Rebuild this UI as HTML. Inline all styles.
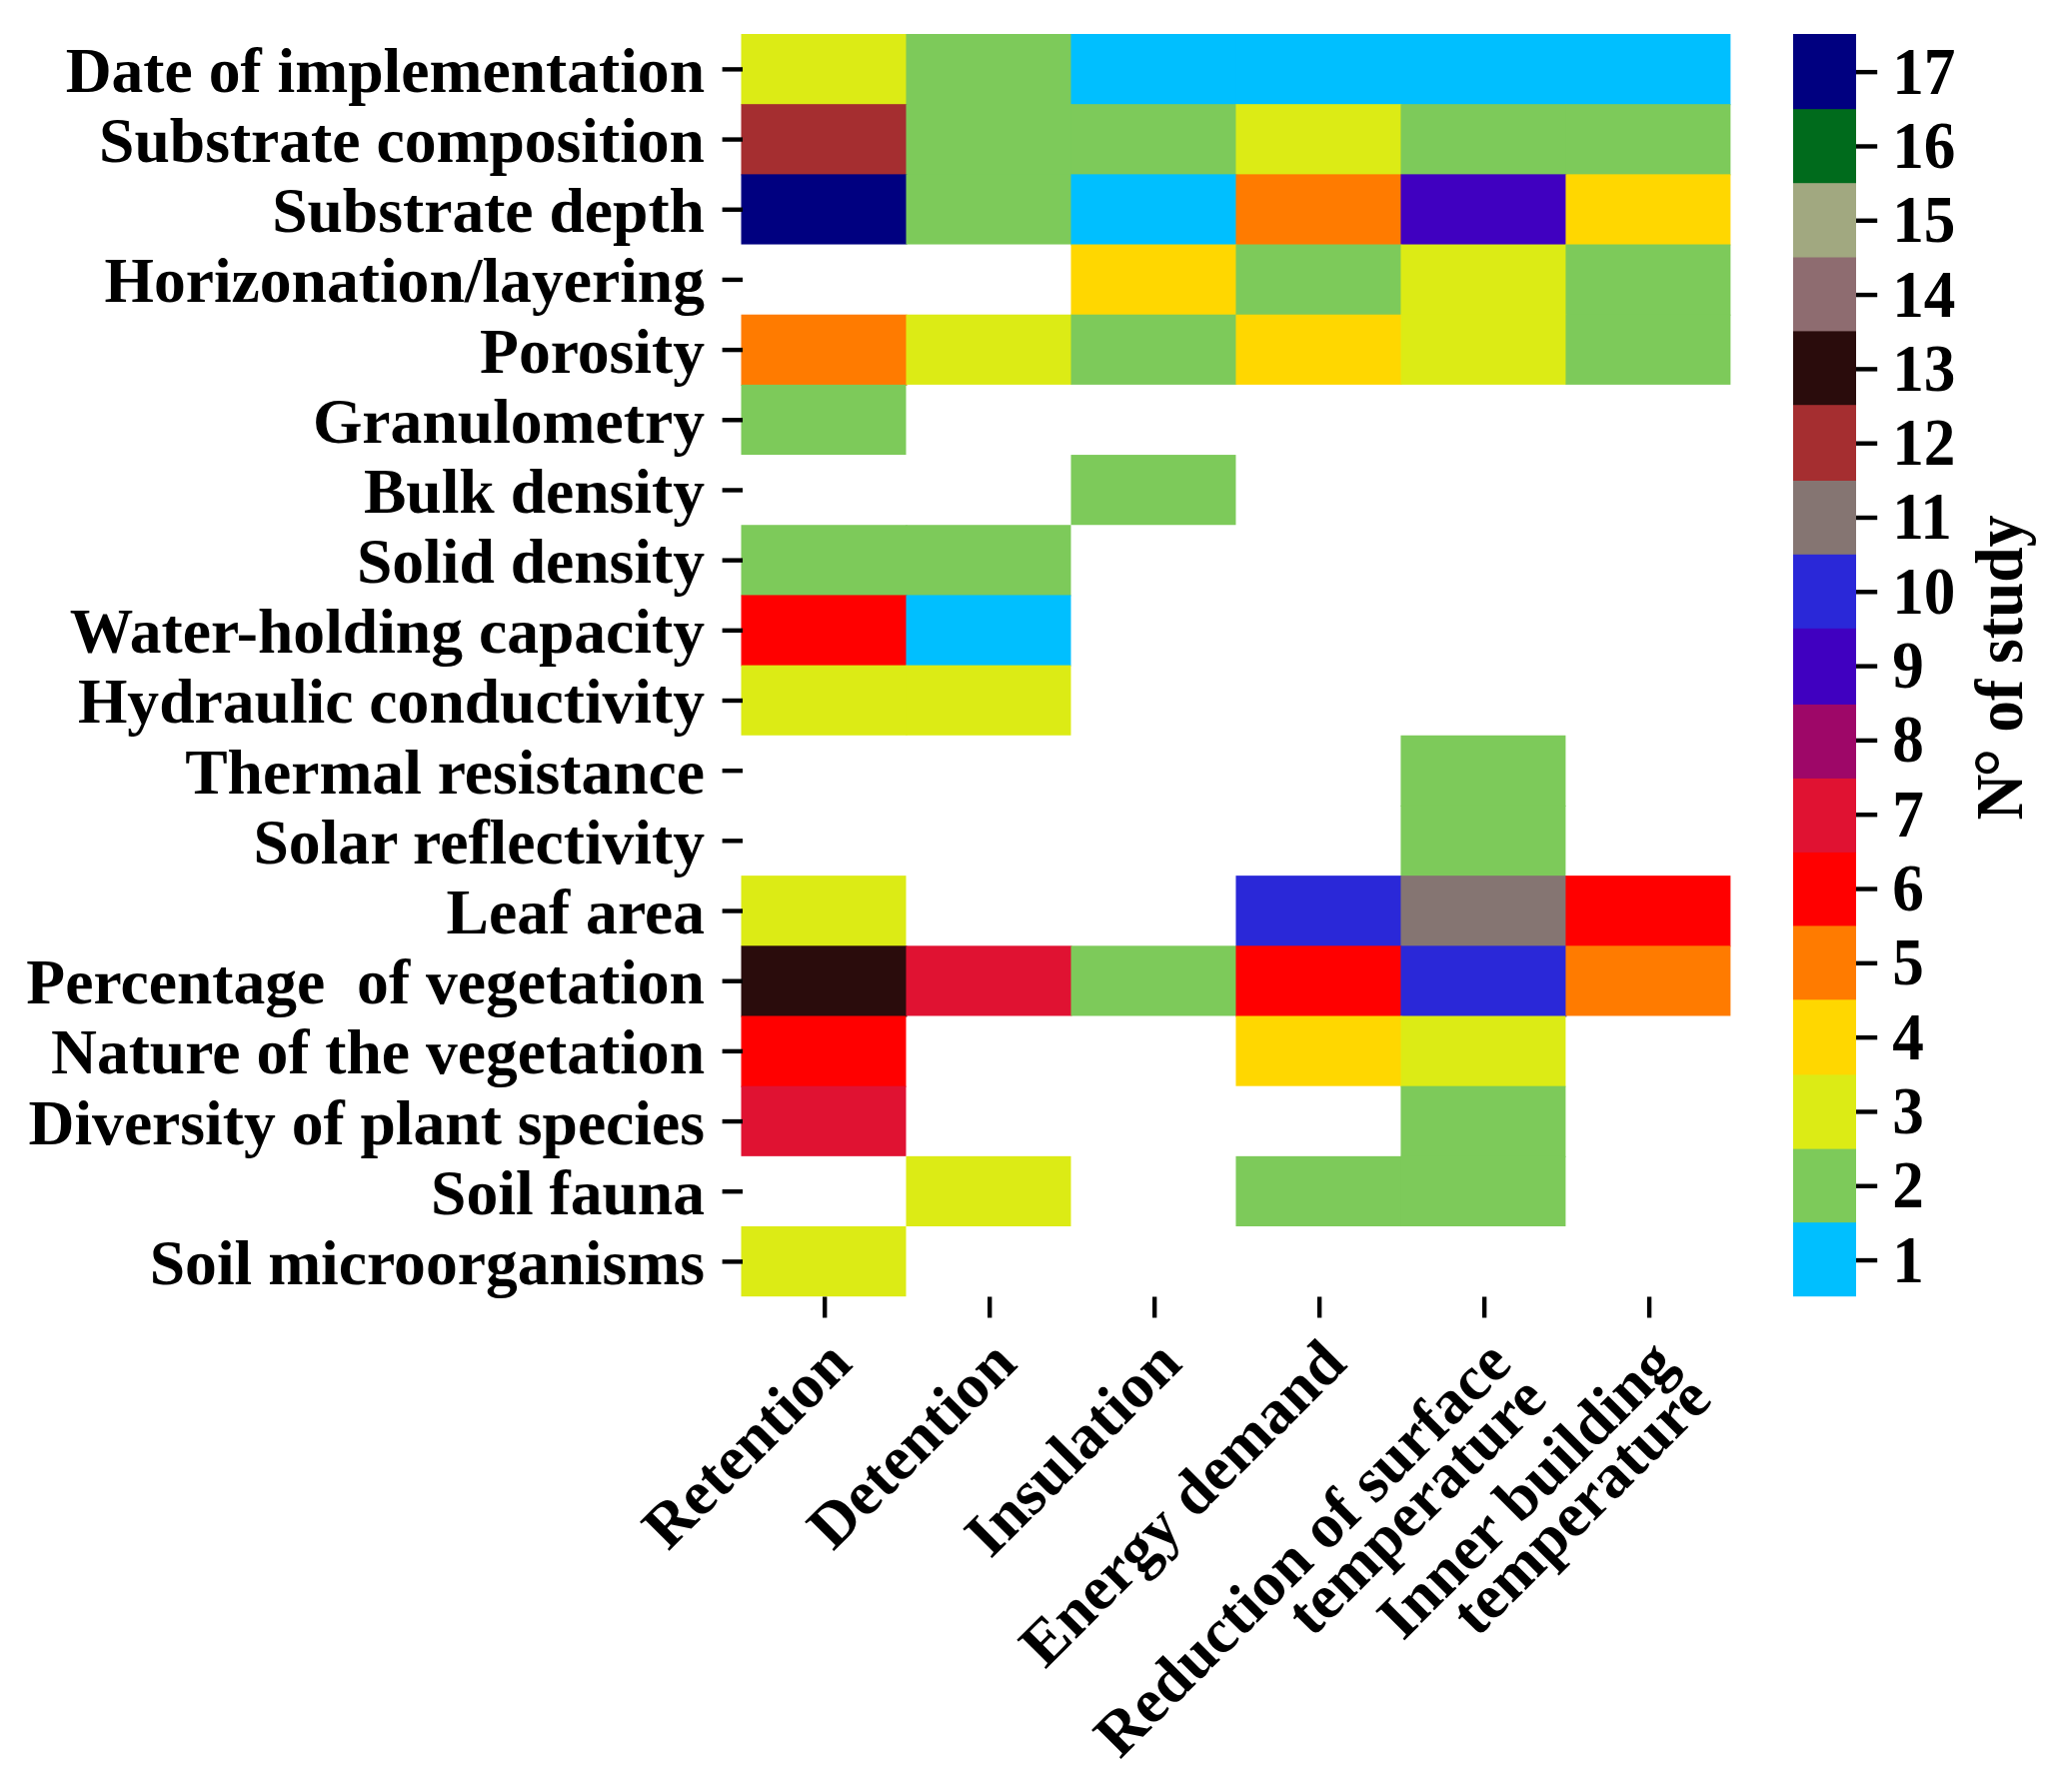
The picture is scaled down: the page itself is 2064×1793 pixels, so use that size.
<!DOCTYPE html>
<html lang="en">
<head>
<meta charset="utf-8">
<title>Heatmap</title>
<style>
html,body{margin:0;padding:0;background:#fff;}
body{width:2064px;height:1793px;overflow:hidden;}
svg{display:block;}
text{font-family:"Liberation Serif","Times New Roman",serif;font-weight:bold;fill:#000;}
</style>
</head>
<body>
<svg width="2064" height="1793" viewBox="0 0 2064 1793">
<rect x="0" y="0" width="2064" height="1793" fill="#ffffff"/>
<g>
<rect x="741.50" y="34.00" width="165.98" height="71.18" fill="#DCEB15"/>
<rect x="906.48" y="34.00" width="165.98" height="71.18" fill="#7DCA5A"/>
<rect x="1071.47" y="34.00" width="165.98" height="71.18" fill="#00BFFF"/>
<rect x="1236.45" y="34.00" width="165.98" height="71.18" fill="#00BFFF"/>
<rect x="1401.43" y="34.00" width="165.98" height="71.18" fill="#00BFFF"/>
<rect x="1566.42" y="34.00" width="164.98" height="71.18" fill="#00BFFF"/>
<rect x="741.50" y="104.18" width="165.98" height="71.18" fill="#A52E30"/>
<rect x="906.48" y="104.18" width="165.98" height="71.18" fill="#7DCA5A"/>
<rect x="1071.47" y="104.18" width="165.98" height="71.18" fill="#7DCA5A"/>
<rect x="1236.45" y="104.18" width="165.98" height="71.18" fill="#DCEB15"/>
<rect x="1401.43" y="104.18" width="165.98" height="71.18" fill="#7DCA5A"/>
<rect x="1566.42" y="104.18" width="164.98" height="71.18" fill="#7DCA5A"/>
<rect x="741.50" y="174.36" width="165.98" height="70.18" fill="#000080"/>
<rect x="906.48" y="174.36" width="165.98" height="70.18" fill="#7DCA5A"/>
<rect x="1071.47" y="174.36" width="165.98" height="71.18" fill="#00BFFF"/>
<rect x="1236.45" y="174.36" width="165.98" height="71.18" fill="#FF7B00"/>
<rect x="1401.43" y="174.36" width="165.98" height="71.18" fill="#4000C0"/>
<rect x="1566.42" y="174.36" width="164.98" height="71.18" fill="#FFD700"/>
<rect x="1071.47" y="244.53" width="165.98" height="71.18" fill="#FFD700"/>
<rect x="1236.45" y="244.53" width="165.98" height="71.18" fill="#7DCA5A"/>
<rect x="1401.43" y="244.53" width="165.98" height="71.18" fill="#DCEB15"/>
<rect x="1566.42" y="244.53" width="164.98" height="71.18" fill="#7DCA5A"/>
<rect x="741.50" y="314.71" width="165.98" height="71.18" fill="#FF7B00"/>
<rect x="906.48" y="314.71" width="165.98" height="70.18" fill="#DCEB15"/>
<rect x="1071.47" y="314.71" width="165.98" height="70.18" fill="#7DCA5A"/>
<rect x="1236.45" y="314.71" width="165.98" height="70.18" fill="#FFD700"/>
<rect x="1401.43" y="314.71" width="165.98" height="70.18" fill="#DCEB15"/>
<rect x="1566.42" y="314.71" width="164.98" height="70.18" fill="#7DCA5A"/>
<rect x="741.50" y="384.89" width="164.98" height="70.18" fill="#7DCA5A"/>
<rect x="1071.47" y="455.07" width="164.98" height="70.18" fill="#7DCA5A"/>
<rect x="741.50" y="525.24" width="165.98" height="71.18" fill="#7DCA5A"/>
<rect x="906.48" y="525.24" width="164.98" height="71.18" fill="#7DCA5A"/>
<rect x="741.50" y="595.42" width="165.98" height="71.18" fill="#FF0000"/>
<rect x="906.48" y="595.42" width="164.98" height="71.18" fill="#00BFFF"/>
<rect x="741.50" y="665.60" width="165.98" height="70.18" fill="#DCEB15"/>
<rect x="906.48" y="665.60" width="164.98" height="70.18" fill="#DCEB15"/>
<rect x="1401.43" y="735.78" width="164.98" height="71.18" fill="#7DCA5A"/>
<rect x="1401.43" y="805.96" width="164.98" height="71.18" fill="#7DCA5A"/>
<rect x="741.50" y="876.13" width="164.98" height="71.18" fill="#DCEB15"/>
<rect x="1236.45" y="876.13" width="165.98" height="71.18" fill="#2A28D8"/>
<rect x="1401.43" y="876.13" width="165.98" height="71.18" fill="#857572"/>
<rect x="1566.42" y="876.13" width="164.98" height="71.18" fill="#FF0000"/>
<rect x="741.50" y="946.31" width="165.98" height="71.18" fill="#2A0C0C"/>
<rect x="906.48" y="946.31" width="165.98" height="70.18" fill="#E01232"/>
<rect x="1071.47" y="946.31" width="165.98" height="70.18" fill="#7DCA5A"/>
<rect x="1236.45" y="946.31" width="165.98" height="71.18" fill="#FF0000"/>
<rect x="1401.43" y="946.31" width="165.98" height="71.18" fill="#2A28D8"/>
<rect x="1566.42" y="946.31" width="164.98" height="70.18" fill="#FF7B00"/>
<rect x="741.50" y="1016.49" width="164.98" height="71.18" fill="#FF0000"/>
<rect x="1236.45" y="1016.49" width="165.98" height="70.18" fill="#FFD700"/>
<rect x="1401.43" y="1016.49" width="164.98" height="71.18" fill="#DCEB15"/>
<rect x="741.50" y="1086.67" width="164.98" height="70.18" fill="#E01232"/>
<rect x="1401.43" y="1086.67" width="164.98" height="71.18" fill="#7DCA5A"/>
<rect x="906.48" y="1156.84" width="164.98" height="70.18" fill="#DCEB15"/>
<rect x="1236.45" y="1156.84" width="165.98" height="70.18" fill="#7DCA5A"/>
<rect x="1401.43" y="1156.84" width="164.98" height="70.18" fill="#7DCA5A"/>
<rect x="741.50" y="1227.02" width="164.98" height="70.18" fill="#DCEB15"/>
</g>
<g stroke="#000" stroke-width="4.4">
<line x1="722.6" y1="69.39" x2="743.0" y2="69.39"/>
<line x1="722.6" y1="139.57" x2="743.0" y2="139.57"/>
<line x1="722.6" y1="209.74" x2="743.0" y2="209.74"/>
<line x1="722.6" y1="279.92" x2="743.0" y2="279.92"/>
<line x1="722.6" y1="350.10" x2="743.0" y2="350.10"/>
<line x1="722.6" y1="420.28" x2="743.0" y2="420.28"/>
<line x1="722.6" y1="490.46" x2="743.0" y2="490.46"/>
<line x1="722.6" y1="560.63" x2="743.0" y2="560.63"/>
<line x1="722.6" y1="630.81" x2="743.0" y2="630.81"/>
<line x1="722.6" y1="700.99" x2="743.0" y2="700.99"/>
<line x1="722.6" y1="771.17" x2="743.0" y2="771.17"/>
<line x1="722.6" y1="841.34" x2="743.0" y2="841.34"/>
<line x1="722.6" y1="911.52" x2="743.0" y2="911.52"/>
<line x1="722.6" y1="981.70" x2="743.0" y2="981.70"/>
<line x1="722.6" y1="1051.88" x2="743.0" y2="1051.88"/>
<line x1="722.6" y1="1122.06" x2="743.0" y2="1122.06"/>
<line x1="722.6" y1="1192.23" x2="743.0" y2="1192.23"/>
<line x1="722.6" y1="1262.41" x2="743.0" y2="1262.41"/>
<line x1="825.19" y1="1297.5" x2="825.19" y2="1318.5"/>
<line x1="990.18" y1="1297.5" x2="990.18" y2="1318.5"/>
<line x1="1155.16" y1="1297.5" x2="1155.16" y2="1318.5"/>
<line x1="1320.14" y1="1297.5" x2="1320.14" y2="1318.5"/>
<line x1="1485.13" y1="1297.5" x2="1485.13" y2="1318.5"/>
<line x1="1650.11" y1="1297.5" x2="1650.11" y2="1318.5"/>
</g>
<g font-size="63.6" text-anchor="end">
<text x="705" y="91.89">Date of implementation</text>
<text x="705" y="162.07">Substrate composition</text>
<text x="705" y="232.24">Substrate depth</text>
<text x="705" y="302.42">Horizonation/layering</text>
<text x="705" y="372.60">Porosity</text>
<text x="705" y="442.78">Granulometry</text>
<text x="705" y="512.96">Bulk density</text>
<text x="705" y="583.13">Solid density</text>
<text x="705" y="653.31">Water-holding capacity</text>
<text x="705" y="723.49">Hydraulic conductivity</text>
<text x="705" y="793.67">Thermal resistance</text>
<text x="705" y="863.84">Solar reflectivity</text>
<text x="705" y="934.02">Leaf area</text>
<text x="705" y="1004.20">Percentage  of vegetation</text>
<text x="705" y="1074.38">Nature of the vegetation</text>
<text x="705" y="1144.56">Diversity of plant species</text>
<text x="705" y="1214.73">Soil fauna</text>
<text x="705" y="1284.91">Soil microorganisms</text>
</g>
<g font-size="63.1" text-anchor="end">
<text transform="translate(854.49,1367.00) rotate(-45)">Retention</text>
<text transform="translate(1019.48,1367.00) rotate(-45)">Detention</text>
<text transform="translate(1184.46,1367.00) rotate(-45)">Insulation</text>
<text transform="translate(1349.44,1367.00) rotate(-45)">Energy demand</text>
<text transform="translate(1514.43,1367.00) rotate(-45)"><tspan x="0" y="0">Reduction of surface</tspan><tspan x="0" y="50">temperature</tspan></text>
<text transform="translate(1679.41,1367.00) rotate(-45)"><tspan x="0" y="0">Inner building</tspan><tspan x="0" y="50">temperature</tspan></text>
</g>
<g>
<rect x="1794.00" y="34.00" width="63.00" height="76.20" fill="#000080"/>
<rect x="1794.00" y="109.20" width="63.00" height="75.00" fill="#006B1C"/>
<rect x="1794.00" y="183.20" width="63.00" height="75.30" fill="#A1A880"/>
<rect x="1794.00" y="257.50" width="63.00" height="74.90" fill="#8E6C70"/>
<rect x="1794.00" y="331.40" width="63.00" height="74.80" fill="#2A0C0C"/>
<rect x="1794.00" y="405.20" width="63.00" height="76.80" fill="#A52E30"/>
<rect x="1794.00" y="481.00" width="63.00" height="74.80" fill="#857572"/>
<rect x="1794.00" y="554.80" width="63.00" height="75.00" fill="#2A28D8"/>
<rect x="1794.00" y="628.80" width="63.00" height="77.10" fill="#4000C0"/>
<rect x="1794.00" y="704.90" width="63.00" height="75.00" fill="#9E0768"/>
<rect x="1794.00" y="778.90" width="63.00" height="75.00" fill="#E01232"/>
<rect x="1794.00" y="852.90" width="63.00" height="74.50" fill="#FF0000"/>
<rect x="1794.00" y="926.40" width="63.00" height="74.90" fill="#FF7B00"/>
<rect x="1794.00" y="1000.30" width="63.00" height="76.10" fill="#FFD700"/>
<rect x="1794.00" y="1075.40" width="63.00" height="75.20" fill="#DCEB15"/>
<rect x="1794.00" y="1149.60" width="63.00" height="74.60" fill="#7DCA5A"/>
<rect x="1794.00" y="1223.20" width="63.00" height="74.00" fill="#00BFFF"/>
</g>
<g stroke="#000" stroke-width="4.4">
<line x1="1857.0" y1="72.15" x2="1878.2" y2="72.15"/>
<line x1="1857.0" y1="146.46" x2="1878.2" y2="146.46"/>
<line x1="1857.0" y1="220.76" x2="1878.2" y2="220.76"/>
<line x1="1857.0" y1="295.07" x2="1878.2" y2="295.07"/>
<line x1="1857.0" y1="369.38" x2="1878.2" y2="369.38"/>
<line x1="1857.0" y1="443.68" x2="1878.2" y2="443.68"/>
<line x1="1857.0" y1="517.99" x2="1878.2" y2="517.99"/>
<line x1="1857.0" y1="592.29" x2="1878.2" y2="592.29"/>
<line x1="1857.0" y1="666.60" x2="1878.2" y2="666.60"/>
<line x1="1857.0" y1="740.91" x2="1878.2" y2="740.91"/>
<line x1="1857.0" y1="815.21" x2="1878.2" y2="815.21"/>
<line x1="1857.0" y1="889.52" x2="1878.2" y2="889.52"/>
<line x1="1857.0" y1="963.82" x2="1878.2" y2="963.82"/>
<line x1="1857.0" y1="1038.13" x2="1878.2" y2="1038.13"/>
<line x1="1857.0" y1="1112.44" x2="1878.2" y2="1112.44"/>
<line x1="1857.0" y1="1186.74" x2="1878.2" y2="1186.74"/>
<line x1="1857.0" y1="1261.05" x2="1878.2" y2="1261.05"/>
</g>
<g font-size="68.4" text-anchor="start">
<text transform="translate(1893.2,93.65) scale(0.925,1)">17</text>
<text transform="translate(1893.2,167.96) scale(0.925,1)">16</text>
<text transform="translate(1893.2,242.26) scale(0.925,1)">15</text>
<text transform="translate(1893.2,316.57) scale(0.925,1)">14</text>
<text transform="translate(1893.2,390.88) scale(0.925,1)">13</text>
<text transform="translate(1893.2,465.18) scale(0.925,1)">12</text>
<text transform="translate(1893.2,539.49) scale(0.925,1)">11</text>
<text transform="translate(1893.2,613.79) scale(0.925,1)">10</text>
<text transform="translate(1893.2,688.10) scale(0.925,1)">9</text>
<text transform="translate(1893.2,762.41) scale(0.925,1)">8</text>
<text transform="translate(1893.2,836.71) scale(0.925,1)">7</text>
<text transform="translate(1893.2,911.02) scale(0.925,1)">6</text>
<text transform="translate(1893.2,985.32) scale(0.925,1)">5</text>
<text transform="translate(1893.2,1059.63) scale(0.925,1)">4</text>
<text transform="translate(1893.2,1133.94) scale(0.925,1)">3</text>
<text transform="translate(1893.2,1208.24) scale(0.925,1)">2</text>
<text transform="translate(1893.2,1282.55) scale(0.925,1)">1</text>
</g>
<text font-size="68.4" text-anchor="middle" transform="translate(2022.5,668) rotate(-90) scale(0.93,1)">N<tspan font-size="78" dx="-3.5" dy="5.8">°</tspan><tspan dx="0" dy="-5.8"> of study</tspan></text>
</svg>
</body>
</html>
